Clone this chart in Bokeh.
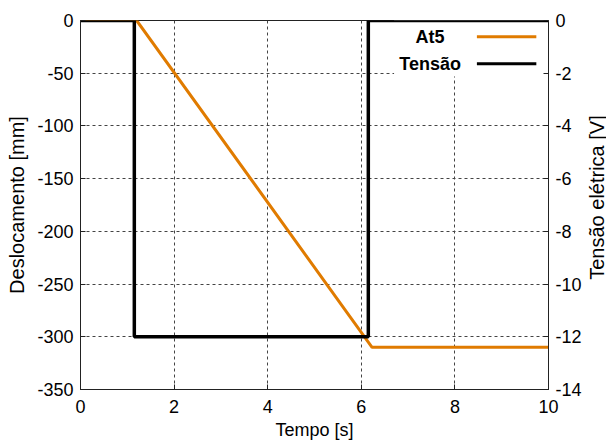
import math
from bokeh.plotting import figure
from bokeh.layouts import row
from bokeh.models import Range1d, LinearAxis, FixedTicker
from bokeh.core.properties import value
from bokeh.embed import file_html
from bokeh.resources import INLINE

# Data
t_at5 = [0.0, 1.2, 6.23, 10.0]
disp_at5 = [0.0, 0.0, -310.0, -310.0]

t_tensao = [0.0, 1.15, 1.15, 6.15, 6.15, 10.0]
v_tensao = [0.0, 0.0, -12.0, -12.0, 0.0, 0.0]

x_ticks = [0, 2, 4, 6, 8, 10]
y_ticks = [-350, -300, -250, -200, -150, -100, -50, 0]
v_ticks = [-14, -12, -10, -8, -6, -4, -2, 0]

legend_labels = ["At5", "Tensão"]
legend_colors = ["#e07b00", "#000000"]
right_title = "Tensão elétrica [V]"

FONT = "Liberation Sans"
MAIN_W = 584
SIDE_W = 606 - MAIN_W
H = 444


def hyphen_labels(ticks):
    return {t: str(t) for t in ticks}


p = figure(width=MAIN_W, height=H, output_backend="svg", toolbar_location=None,
           x_range=Range1d(0, 10), y_range=Range1d(-350, 0),
           min_border_left=80, min_border_right=MAIN_W - 550,
           min_border_top=20, min_border_bottom=55)
p.extra_y_ranges = {"v": Range1d(-14, 0)}

p.outline_line_color = "#222222"
p.outline_line_width = 1
p.background_fill_color = "white"
p.border_fill_color = "white"


def style_axis(ax, label_size):
    ax.major_label_text_font = FONT
    ax.major_label_text_font_size = "18px"
    ax.major_label_text_color = "black"
    ax.axis_label_text_font = FONT
    ax.axis_label_text_font_size = label_size
    ax.axis_label_text_font_style = "normal"
    ax.axis_label_text_color = "black"
    ax.axis_line_color = "#222222"
    ax.major_tick_in = 5
    ax.major_tick_out = 0
    ax.minor_tick_line_color = None
    ax.major_tick_line_color = "#222222"
    ax.major_label_standoff = 7


xa = p.xaxis[0]
ya = p.yaxis[0]
style_axis(xa, "18px")
style_axis(ya, "20px")
xa.ticker = FixedTicker(ticks=x_ticks)
ya.ticker = FixedTicker(ticks=y_ticks)
xa.major_label_overrides = hyphen_labels(x_ticks)
ya.major_label_overrides = hyphen_labels(y_ticks)
xa.axis_label = "Tempo [s]"
ya.axis_label = "Deslocamento [mm]"
xa.axis_label_standoff = 4
ya.axis_label_standoff = 6
xa.major_label_standoff = 10

rax = LinearAxis(y_range_name="v", ticker=FixedTicker(ticks=v_ticks))
style_axis(rax, "20px")
rax.major_label_overrides = hyphen_labels(v_ticks)
rax.major_label_standoff = 7
p.add_layout(rax, "right")

p.xgrid.ticker = FixedTicker(ticks=x_ticks)
p.ygrid.ticker = FixedTicker(ticks=y_ticks)
for g in [p.xgrid[0], p.ygrid[0]]:
    g.grid_line_color = "#444444"
    g.grid_line_dash = "3 3"
    g.grid_line_width = 1

# legend background (opaque box, like gnuplot key)
p.quad(left=[6.7], right=[10.0], top=[0.0], bottom=[-53.0],
       fill_color="white", line_color=None)

p.line(t_at5, disp_at5, line_color=legend_colors[0], line_width=3)
p.line(t_tensao, v_tensao, y_range_name="v", line_color=legend_colors[1], line_width=3.5)

# legend entries (label left, sample right)
leg_y = [-15.5, -41.0]
p.text(x=[7.47, 7.47], y=leg_y, text=legend_labels,
       text_font=value(FONT), text_font_size="18px", text_font_style="bold",
       text_align="center", text_baseline="middle", text_color="black")
for yy, c in zip(leg_y, legend_colors):
    p.line([8.47, 9.74], [yy, yy], line_color=c, line_width=3)

# narrow side strip carrying the right axis title, reading bottom-to-top
side = figure(width=SIDE_W, height=H, output_backend="svg", toolbar_location=None,
              x_range=Range1d(0, SIDE_W), y_range=Range1d(0, H),
              min_border=0, min_border_left=0, min_border_right=0,
              min_border_top=0, min_border_bottom=0)
side.axis.visible = False
side.grid.visible = False
side.outline_line_color = None
side.background_fill_color = "white"
side.border_fill_color = "white"
side.text(x=[SIDE_W / 2 + 1], y=[H - 213], text=[right_title], angle=math.pi / 2,
          text_font=value(FONT), text_font_size="20px", text_color="black",
          text_align="center", text_baseline="middle")

layout = row(p, side, spacing=0)
open("out.html", "w").write(file_html(layout, INLINE))
